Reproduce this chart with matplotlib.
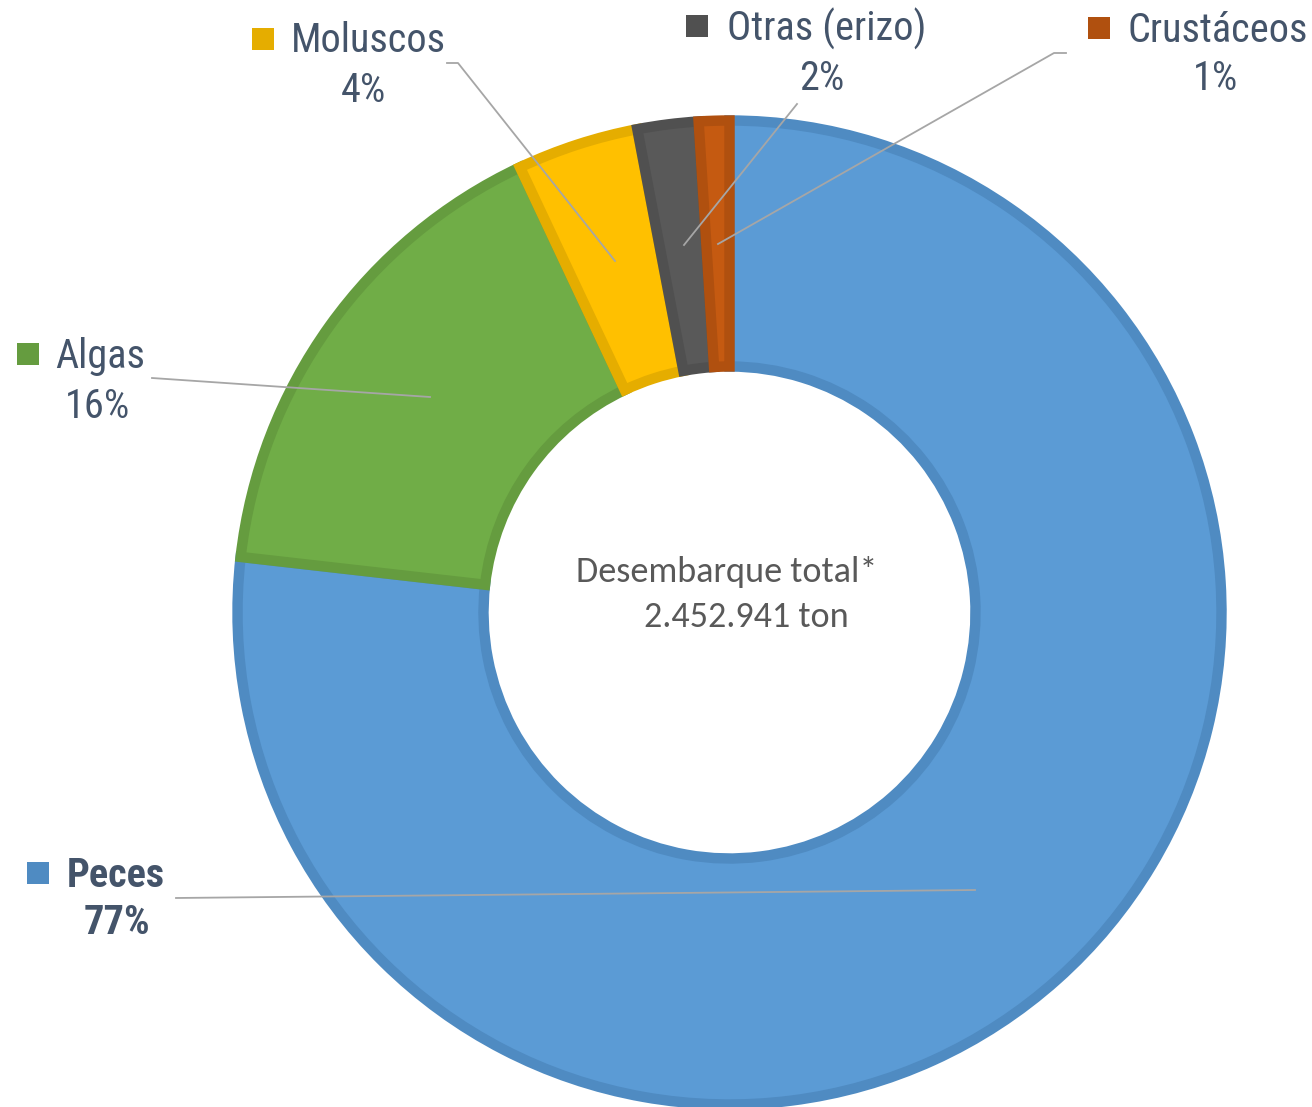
import matplotlib
matplotlib.use("Agg")
import matplotlib.pyplot as plt
from matplotlib import font_manager
from matplotlib.patches import Rectangle

# data
categories = ["Peces", "Algas", "Moluscos", "Otras (erizo)", "Crustáceos"]
shares = [76.8, 16.2, 4.0, 2.0, 1.0]
pct_labels = ["77%", "16%", "4%", "2%", "1%"]
center_lines = ["Desembarque total*", "2.452.941 ton"]

fills = ["#5B9BD5", "#70AD47", "#FFC000", "#595959", "#C55A11"]
borders = ["#4F8BC2", "#659C3F", "#E5AD00", "#505050", "#B0500F"]
text_col = "#44546A"
line_col = "#A6A6A6"

names = {f.name for f in font_manager.fontManager.ttflist}


def pick(options):
    for o in options:
        if o in names:
            return o
    return "DejaVu Sans"


narrow = pick(["Liberation Sans Narrow", "Arial Narrow", "Roboto Condensed",
               "Archivo Narrow", "PT Sans Narrow", "Pragati Narrow"])
calib = pick(["Carlito", "Calibri", "Lato"])

W, H = 1312, 1107
fig = plt.figure(figsize=(W / 100, H / 100), dpi=100)
ax = fig.add_axes([0, 0, 1, 1])

cx, cy = 729.5, H - 612.5
R = 492
wedges, _ = ax.pie(shares, colors=fills, startangle=90, counterclock=False,
                   radius=R, center=(cx, cy),
                   wedgeprops=dict(width=246, linewidth=7.5))
for w, b in zip(wedges, borders):
    w.set_edgecolor(b)
    w.set_clip_path(w)

ax.set_xlim(0, W)
ax.set_ylim(0, H)
ax.set_aspect("equal")
ax.axis("off")

# label layout: (square x, square top y, name x, name y, pct x, pct y) in px from top-left
layout = [
    (27, 862, 67, 876, 117, 923),
    (17, 343, 55, 356, 98, 406),
    (252, 28, 291, 41, 363, 91),
    (686, 15, 727, 29, 822, 78),
    (1088, 17, 1127, 31, 1215, 79),
]
# leader lines in px
leaders = [
    [(176, 898), (975, 890)],
    [(152, 378), (430, 397)],
    [(447, 63), (458, 63), (615, 261)],
    [(797, 104), (684, 245)],
    [(1066, 53), (1054, 53), (718, 244)],
]

for i, name in enumerate(categories):
    sx, sy, nx, ny, px, py = layout[i]
    weight = "bold" if i == 0 else "normal"
    ax.add_patch(Rectangle((sx, H - sy - 22), 22, 22, color=borders[i], lw=0))
    ax.text(nx, H - ny, name, ha="left", va="center", fontsize=29,
            family=narrow, color=text_col, fontweight=weight)
    ax.text(px, H - py, pct_labels[i], ha="center", va="center", fontsize=29,
            family=narrow, color=text_col, fontweight=weight)
    xs = [p[0] for p in leaders[i]]
    ys = [H - p[1] for p in leaders[i]]
    ax.plot(xs, ys, color=line_col, lw=1.3)

ax.text(727, H - 572, center_lines[0], ha="center", va="center", fontsize=26,
        family=calib, color="#595959")
ax.text(746, H - 617, center_lines[1], ha="center", va="center", fontsize=26,
        family=calib, color="#595959")

fig.savefig("out.png", dpi=100)
